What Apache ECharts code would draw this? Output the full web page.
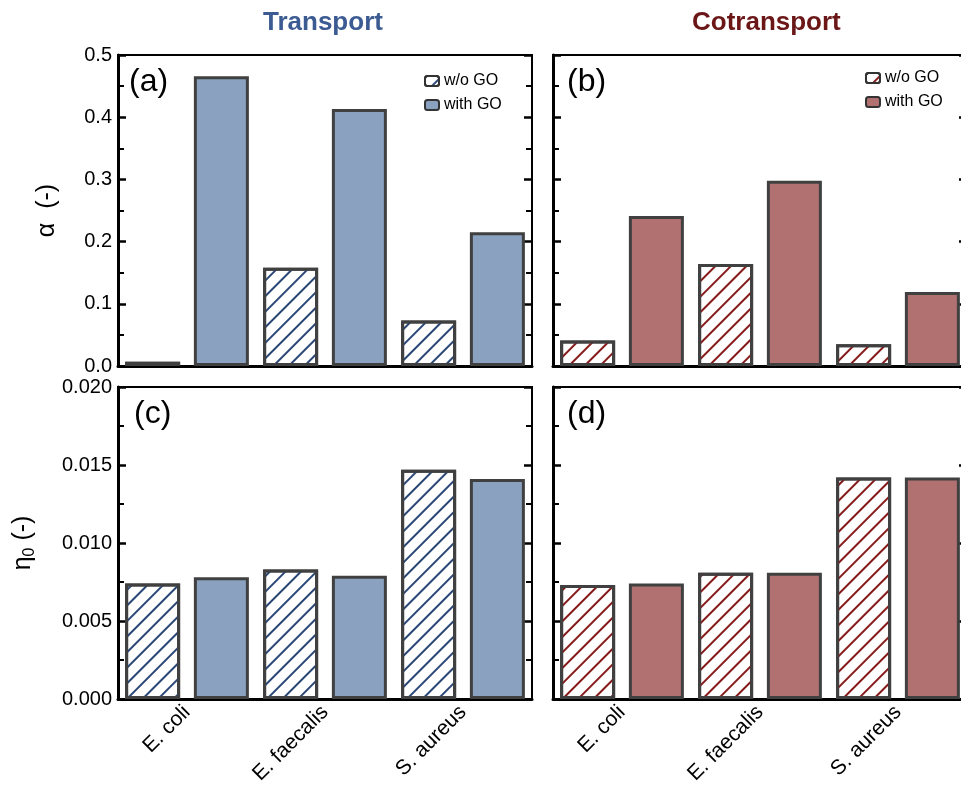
<!DOCTYPE html>
<html>
<head>
<meta charset="utf-8">
<script src="https://cdn.jsdelivr.net/npm/echarts@6/dist/echarts.min.js"></script>
<style>
html,body{margin:0;padding:0;background:#fff;}
#chart{width:961px;height:786px;}
</style>
</head>
<body>
<div id="chart"></div>
<script>
const categories = ['E. coli', 'E. faecalis', 'S. aureus'];
const seriesNames = ['w/o GO', 'with GO'];
const panelTitles = ['Transport', 'Cotransport'];
const panelLetters = ['(a)', '(b)', '(c)', '(d)'];

const alphaTransportWo = [0.007, 0.158, 0.073];
const alphaTransportWith = [0.466, 0.413, 0.215];
const alphaCotransportWo = [0.041, 0.164, 0.035];
const alphaCotransportWith = [0.241, 0.298, 0.119];

const etaTransportWo = [0.0074, 0.0083, 0.0147];
const etaTransportWith = [0.0078, 0.0079, 0.0141];
const etaCotransportWo = [0.0073, 0.0081, 0.0142];
const etaCotransportWith = [0.0074, 0.0081, 0.0142];

const alphaAxis = { min: 0, max: 0.5, interval: 0.1, digits: 1 };
const etaAxis = { min: 0, max: 0.02, interval: 0.005, digits: 3 };

const FONT = 'Liberation Sans, Arial, sans-serif';
const BLUE = '#8aa2bf', BLUE_HATCH = '#2a4675';
const RED = '#b17171', RED_HATCH = '#861a1a';
const EDGE = '#404040';

const grids = [
  { left: 118, top: 55, width: 414, height: 311 },
  { left: 553, top: 55, width: 414, height: 311 },
  { left: 118, top: 387, width: 414, height: 312 },
  { left: 553, top: 387, width: 414, height: 312 }
];

const panelData = [
  [alphaTransportWo, alphaTransportWith],
  [alphaCotransportWo, alphaCotransportWith],
  [etaTransportWo, etaTransportWith],
  [etaCotransportWo, etaCotransportWith]
];

function hatch(color) {
  return { symbol: 'rect', symbolSize: 1, color: color, dashArrayX: [1, 0], dashArrayY: [2, 9], rotation: -Math.PI / 4 };
}

const xAxes = [], yAxes = [], series = [];
grids.forEach((g, i) => {
  const bottom = i >= 2;
  const ax = i < 2 ? alphaAxis : etaAxis;
  const isRed = i % 2 === 1;
  xAxes.push({
    type: 'category', gridIndex: i, data: categories, position: 'bottom',
    axisLine: { show: true, lineStyle: { color: '#000', width: 3 } },
    axisTick: { show: false },
    axisLabel: bottom ? { show: true, rotate: 45, fontSize: 21, color: '#000', fontFamily: FONT, margin: 10 } : { show: false }
  });
  const common = {
    type: 'value', gridIndex: i, min: ax.min, max: ax.max, interval: ax.interval,
    splitLine: { show: false },
    axisTick: { show: true, inside: true, length: 8, lineStyle: { color: '#000', width: 2.5 } },
    minorTick: { show: true, splitNumber: 2, length: 6, lineStyle: { color: '#000', width: 2 } }
  };
  yAxes.push(Object.assign({}, common, {
    position: 'left',
    axisLine: { show: true, lineStyle: { color: '#000', width: 3 } },
    axisLabel: (i % 2 === 0) ? { show: true, fontSize: 20, color: '#000', fontFamily: FONT, margin: 6,
      formatter: v => v.toFixed(ax.digits) } : { show: false },
    name: i === 0 ? 'α  (-)' : (i === 2 ? 'η{sub|0} (-)' : ''),
    nameLocation: 'middle', nameRotate: 90,
    nameGap: i === 0 ? 58 : 80,
    nameTextStyle: { fontSize: 25, color: '#000', fontFamily: FONT,
      rich: { sub: { fontSize: 16, verticalAlign: 'bottom', padding: [14, 0, 0, 0], fontFamily: FONT } } }
  }));
  yAxes.push(Object.assign({}, common, {
    position: 'right',
    axisLine: { show: true, lineStyle: { color: '#000', width: 2 } },
    axisLabel: { show: false }
  }));
  const names = isRed ? seriesNames.map(n => n + ' ') : seriesNames;
  series.push({
    type: 'bar', name: names[0], xAxisIndex: i, yAxisIndex: i * 2,
    data: panelData[i][0], barWidth: 55, barGap: '25%',
    itemStyle: { color: '#fff', borderColor: EDGE, borderWidth: 3, decal: hatch(isRed ? RED_HATCH : BLUE_HATCH) }
  });
  series.push({
    type: 'bar', name: names[1], xAxisIndex: i, yAxisIndex: i * 2,
    data: panelData[i][1], barWidth: 55, barGap: '25%',
    itemStyle: { color: isRed ? RED : BLUE, borderColor: EDGE, borderWidth: 3 }
  });
});

const legends = [
  { left: 419, top: 68, data: seriesNames },
  { left: 860, top: 65, data: seriesNames.map(n => n + ' ') }
].map(l => Object.assign({
  orient: 'vertical', itemWidth: 14, itemHeight: 10, itemGap: 8,
  textStyle: { fontSize: 16, color: '#000', fontFamily: FONT },
  itemStyle: { borderColor: '#333', borderWidth: 2 },
  formatter: n => n.trim(), selectedMode: false
}, l));

const letterPos = [[129, 66], [567, 66], [134, 398], [567, 398]];
const graphics = [
  { type: 'text', left: 263, top: 10, style: { text: panelTitles[0], font: 'bold 26px ' + FONT, fill: '#3b5b92' } },
  { type: 'text', left: 692, top: 10, style: { text: panelTitles[1], font: 'bold 26px ' + FONT, fill: '#6b1717' } }
].concat(letterPos.map((p, i) => ({ type: 'text', left: p[0], top: p[1], z: 10,
  style: { text: panelLetters[i], font: '32px ' + FONT, fill: '#000' } })));

const chart = echarts.init(document.getElementById('chart'), null, { renderer: 'canvas' });
chart.setOption({
  animation: false,
  backgroundColor: '#fff',
  grid: grids.map(g => Object.assign({ show: true, borderColor: '#000', borderWidth: 2, backgroundColor: 'transparent', outerBoundsMode: 'none' }, g)),
  xAxis: xAxes,
  yAxis: yAxes,
  legend: legends,
  series: series,
  graphic: graphics
});
</script>
</body>
</html>
